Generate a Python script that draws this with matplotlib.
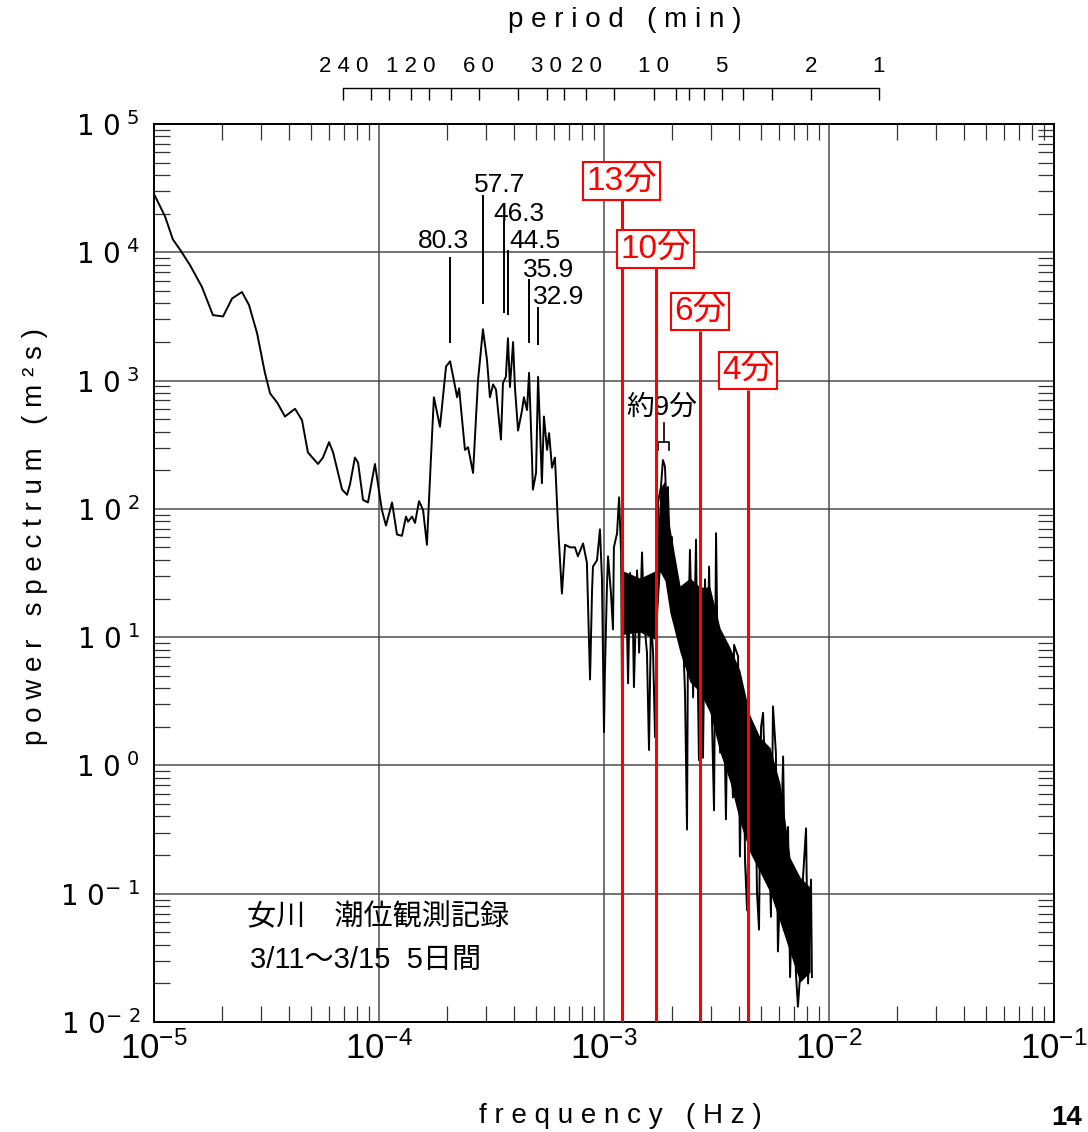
import numpy as np
import matplotlib.pyplot as plt
from matplotlib.ticker import LogLocator, NullFormatter, NullLocator

plt.rcParams['font.family'] = ['Liberation Sans', 'Noto Sans CJK JP', 'DejaVu Sans']

# spectrum: log10 frequency (Hz), log10 power (m^2 s)
log_f = np.array([
    -4.996, -4.951, -4.916, -4.884, -4.840, -4.787, -4.738, -4.693, -4.653, -4.609,
    -4.578, -4.542, -4.507, -4.484, -4.453, -4.418, -4.373, -4.342, -4.316, -4.271,
    -4.249, -4.222, -4.204, -4.164, -4.142, -4.129, -4.107, -4.093, -4.071, -4.049,
    -4.018, -3.987, -3.969, -3.942, -3.920, -3.898, -3.880, -3.871, -3.853, -3.840,
    -3.822, -3.804, -3.787, -3.769, -3.756, -3.729, -3.702, -3.684, -3.667, -3.653,
    -3.644, -3.618, -3.604, -3.582, -3.560, -3.538, -3.520, -3.507, -3.493, -3.480,
    -3.458, -3.449, -3.436, -3.427, -3.418, -3.404, -3.396, -3.382, -3.364, -3.356,
    -3.342, -3.333, -3.320, -3.316, -3.302, -3.293, -3.284, -3.276, -3.267, -3.253,
    -3.244, -3.231, -3.218, -3.204, -3.187, -3.173, -3.151, -3.129, -3.116, -3.093,
    -3.076, -3.062, -3.053, -3.049, -3.031, -3.018, -3.009, -3.000, -2.996, -2.987,
    -2.982, -2.969, -2.960, -2.956, -2.942, -2.933, -2.924, -2.920, -2.911, -2.902,
    -2.893, -2.884, -2.871, -2.867, -2.853, -2.844, -2.831, -2.822, -2.809, -2.800,
    -2.791, -2.782, -2.773, -2.764, -2.760, -2.747, -2.738, -2.729, -2.720, -2.716,
    -2.707, -2.698, -2.693, -2.680, -2.671, -2.662, -2.653, -2.649, -2.640, -2.631,
    -2.627, -2.618, -2.609, -2.604, -2.591, -2.587, -2.578, -2.569, -2.560, -2.551,
    -2.542, -2.533, -2.520, -2.511, -2.502, -2.493, -2.484, -2.471, -2.458, -2.449,
    -2.427, -2.422, -2.404, -2.396, -2.382, -2.373, -2.364, -2.356, -2.342, -2.329,
    -2.320, -2.311, -2.302, -2.293, -2.284, -2.276, -2.258, -2.249, -2.236, -2.227,
    -2.218, -2.204, -2.196, -2.182, -2.173, -2.160, -2.147, -2.138, -2.129, -2.116,
    -2.102, -2.093, -2.080, -2.076])
log_p = np.array([
    4.44, 4.28, 4.10, 4.02, 3.90, 3.73, 3.51, 3.50, 3.64, 3.69,
    3.59, 3.37, 3.06, 2.90, 2.83, 2.72, 2.78, 2.69, 2.44, 2.35,
    2.40, 2.52, 2.44, 2.15, 2.11, 2.19, 2.40, 2.36, 2.07, 2.05,
    2.35, 1.99, 1.87, 2.05, 1.80, 1.79, 1.94, 1.90, 1.94, 1.89,
    2.06, 1.99, 1.72, 2.40, 2.87, 2.64, 3.11, 3.15, 3.00, 2.87,
    2.94, 2.46, 2.48, 2.28, 3.00, 3.40, 3.16, 2.87, 2.97, 2.93,
    2.54, 2.98, 3.03, 3.33, 2.95, 3.30, 2.95, 2.61, 2.77, 2.87,
    2.77, 3.06, 2.40, 2.15, 2.28, 3.03, 2.61, 2.20, 2.72, 2.46,
    2.59, 2.32, 2.40, 1.86, 1.34, 1.72, 1.70, 1.70, 1.63, 1.73,
    1.58, 0.67, 1.37, 1.55, 1.60, 1.84, 1.45, 0.26, 0.72, 1.39,
    1.63, 1.34, 1.06, 1.70, 1.81, 2.09, 1.66, 0.53, 1.37, 1.45,
    0.64, 1.50, 1.06, 0.61, 1.52, 0.88, 1.66, 1.13, 0.88, 0.12,
    1.16, 0.88, 0.22, 1.27, 2.05, 2.17, 2.38, 2.33, 1.91, 2.17,
    1.60, 1.78, 1.37, 1.50, 1.13, 1.27, 0.88, 1.00, 0.57, -0.50,
    0.88, 1.68, 1.00, 0.53, 1.76, 1.13, 0.04, 1.19, 0.06, 1.45,
    0.49, 1.55, 0.35, -0.35, 1.81, 0.57, 0.10, 0.98, -0.42, 0.85,
    -0.25, 0.94, 0.85, -0.71, 0.57, -0.76, -1.13, -0.25, -0.17, 0.10,
    -0.99, -1.28, 0.30, 0.41, -0.09, 0.14, -1.18, 0.46, 0.10, -1.45,
    -0.99, 0.07, -0.87, -0.48, -1.65, -0.79, -1.62, -1.88, -1.65, -0.89,
    -0.49, -1.70, -0.89, -1.65])

# the densest high-frequency part shows as a solid black core
band_log_f = np.array([-2.920, -2.840, -2.769, -2.751, -2.729, -2.707, -2.662, -2.618, -2.573, -2.529,
                       -2.484, -2.440, -2.396, -2.351, -2.307, -2.262, -2.218, -2.173, -2.129, -2.084])
band_log_hi = np.array([1.52, 1.46, 1.52, 2.16, 2.22, 1.85, 1.40, 1.46, 1.39, 1.39,
                        1.07, 0.92, 0.74, 0.39, 0.22, 0.14, -0.14, -0.72, -0.87, -0.95])
band_log_lo = np.array([1.02, 1.04, 0.98, 1.51, 1.44, 1.19, 0.88, 0.65, 0.57, 0.41,
                        0.10, -0.13, -0.44, -0.68, -0.83, -0.99, -1.22, -1.46, -1.69, -1.61])

# peak periods (min) marked in black
peak_periods = [80.3, 57.7, 46.3, 44.5, 35.9, 32.9]
peak_top = [3.96, 4.45, 4.24, 4.02, 3.79, 3.57]   # log10 power
peak_bot = [3.29, 3.60, 3.53, 3.51, 3.29, 3.28]
peak_txt_f = [-3.713, -3.578, -3.493, -3.422, -3.360, -3.316]
peak_txt_p = [4.03, 4.47, 4.24, 4.03, 3.81, 3.60]
peak_ha = ['center', 'left', 'left', 'left', 'left', 'left']

# red marker lines
red_labels = ['13分', '10分', '6分', '4分']
red_freq = [1.20e-3, 1.70e-3, 2.67e-3, 4.37e-3]
red_top = [4.41, 3.88, 3.39, 2.93]   # log10 power

# "about 9 min" bracket
brk_f = [-2.760, -2.760, -2.711, -2.711]
brk_p = [2.46, 2.52, 2.52, 2.46]
brk_stem_f = -2.733
brk_stem_p = [2.52, 2.67]

period_ticks = [240, 180, 150, 120, 100, 80, 60, 40, 30, 25, 20, 15, 10, 8, 7, 6, 5, 4, 3, 2, 1]
period_named = [240, 120, 60, 30, 20, 10, 5, 2, 1]

fig = plt.figure(figsize=(10.88, 11.32), dpi=100)
ax = fig.add_axes([0.14154, 0.09717, 0.82721, 0.79329])

ax.fill_between(10 ** band_log_f, 10 ** band_log_lo, 10 ** band_log_hi, color='black', lw=0, zorder=3)
ax.plot(10 ** log_f, 10 ** log_p, color='black', lw=1.4, zorder=3)

ax.set_xscale('log')
ax.set_yscale('log')
ax.set_xlim(1e-5, 1e-1)
ax.set_ylim(1e-2, 1e5)
ax.grid(True, which='major', color='#4d4d4d', lw=1.1)
for s in ax.spines.values():
    s.set_linewidth(1.4)

ax.set_xticks([1e-5, 1e-4, 1e-3, 1e-2, 1e-1])
ax.set_xticklabels([r'$\mathregular{10^{%d}}$' % e for e in range(-5, 0)],
                   fontsize=25, fontfamily='Liberation Sans')
ylabs = []
for e in range(-2, 6):
    if e < 0:
        ylabs.append(r'$\mathregular{1\ 0^{-\ %d}}$' % -e)
    else:
        ylabs.append(r'$\mathregular{1\ 0^{\ %d}}$' % e)
ax.set_yticks([10.0 ** e for e in range(-2, 6)])
ax.set_yticklabels(ylabs, fontsize=20, fontfamily='DejaVu Sans')
for axis in (ax.xaxis, ax.yaxis):
    axis.set_minor_locator(LogLocator(base=10, subs=np.arange(2, 10), numticks=30))
    axis.set_minor_formatter(NullFormatter())
ax.tick_params(which='both', direction='in', top=True, right=True)
ax.tick_params(which='major', length=0)
ax.tick_params(which='minor', length=11.5, width=0.9, color='#333333')
ax.tick_params(axis='x', pad=7)
ax.tick_params(axis='y', pad=10)

# red lines and boxes
ax.vlines(red_freq, 10 ** np.array(red_top), 1e-2, colors='red', lw=2.2, zorder=5)
for lbl, fq, tp in zip(red_labels, red_freq, red_top):
    ax.annotate(lbl, xy=(fq, 10 ** tp), xytext=(0, 2.5), textcoords='offset points',
                ha='center', va='bottom', color='red', fontsize=24, zorder=6,
                bbox=dict(boxstyle='square,pad=0.1', fc='white', ec='red', lw=1.5))

# peak markers
pk_f = 1.0 / (60.0 * np.array(peak_periods))
ax.vlines(pk_f, 10 ** np.array(peak_bot), 10 ** np.array(peak_top), colors='black', lw=1.4, zorder=4)
for per, tf, tp, ha in zip(peak_periods, peak_txt_f, peak_txt_p, peak_ha):
    ax.text(10 ** tf, 10 ** tp, '%.1f' % per, ha=ha, va='baseline', fontsize=19)

ax.plot(10 ** np.array(brk_f), 10 ** np.array(brk_p), color='black', lw=1.2)
ax.plot([10 ** brk_stem_f] * 2, 10 ** np.array(brk_stem_p), color='black', lw=1.2)
ax.text(10 ** -2.742, 10 ** 2.73, '約9分', ha='center', va='baseline', fontsize=20)

ax.text(10 ** -4.587, 10 ** -1.18, '女川\u3000潮位観測記録', ha='left', va='center',
        fontsize=21, fontfamily=['Noto Sans CJK JP'])
ax.text(10 ** -4.573, 10 ** -1.52, '3/11～3/15  5日間', ha='left', va='center',
        fontsize=21, fontfamily=['Liberation Sans', 'Noto Sans CJK JP'])

# period axis above the plot
axt = fig.add_axes([0.14154, 0.9223 - 0.004, 0.82721, 0.004])
axt.set_xscale('log')
axt.set_xlim(1e-5, 1e-1)
axt.patch.set_visible(False)
for s in ['left', 'right', 'bottom']:
    axt.spines[s].set_visible(False)
pf = 1.0 / (60.0 * np.array(period_ticks))
axt.spines['top'].set_bounds(pf.min(), pf.max())
axt.spines['top'].set_linewidth(1.0)
axt.xaxis.set_ticks_position('top')
axt.set_xticks(pf)
axt.set_xticklabels([' '.join(str(t)) if t in period_named else '' for t in period_ticks], fontsize=16)
axt.xaxis.set_minor_locator(NullLocator())
axt.tick_params(axis='x', direction='in', length=8.6, width=1.0, pad=8)
axt.set_yticks([])

fig.text(0.574, 0.982, 'p e r i o d   ( m i n )', ha='center', va='center', fontsize=20)
fig.text(0.570, 0.014, 'f r e q u e n c y   ( H z )', ha='center', va='center', fontsize=20)
fig.text(0.032, 0.526, 'p o w e r   s p e c t r u m   ( m ² s )', ha='center', va='center',
         rotation=90, fontsize=20)
fig.text(0.966, 0.001, '14', ha='left', va='bottom', fontsize=20, fontweight='bold')

fig.savefig('out.png', dpi=100)
